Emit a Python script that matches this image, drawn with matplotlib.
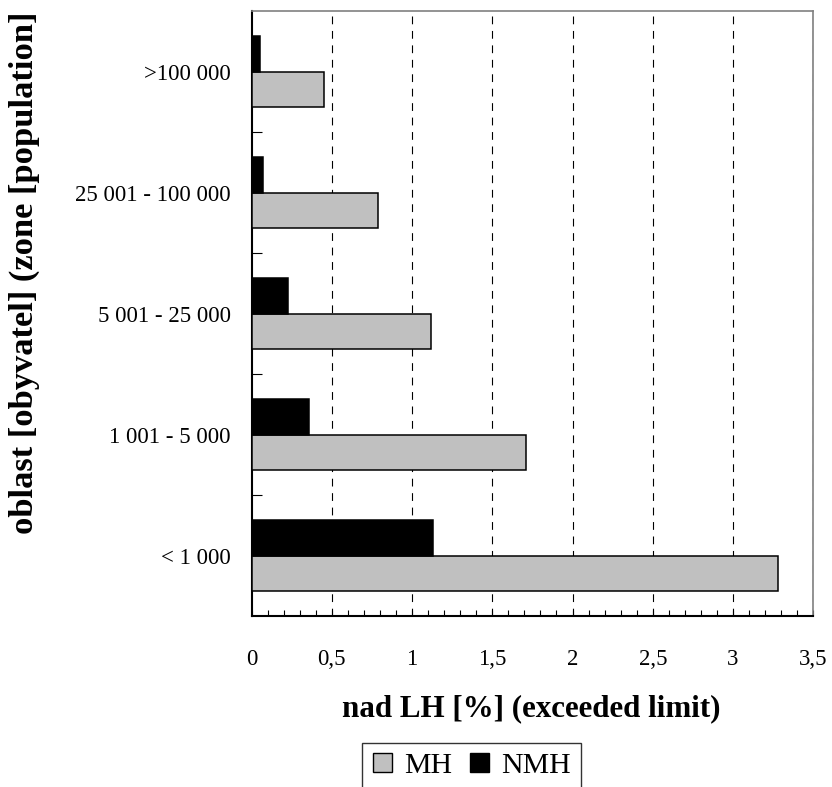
import matplotlib
matplotlib.use("Agg")
import matplotlib.pyplot as plt
from matplotlib.patches import Patch
import numpy as np

# categories from bottom to top
oblasti = ["< 1 000", "1 001 - 5 000", "5 001 - 25 000", "25 001 - 100 000", ">100 000"]
mh = [3.28, 1.71, 1.12, 0.79, 0.45]
nmh = [1.13, 0.36, 0.23, 0.07, 0.05]
x_ticks = [0, 0.5, 1, 1.5, 2, 2.5, 3, 3.5]
x_tick_labels = ["0", "0,5", "1", "1,5", "2", "2,5", "3", "3,5"]

plt.rcParams["font.family"] = ["Liberation Serif", "DejaVu Serif"]

W, H = 832, 787
fig = plt.figure(figsize=(W / 100, H / 100), dpi=100)
ax = fig.add_axes([251.5 / W, 1 - 616 / H, (813.3 - 251.5) / W, (616 - 11) / H])

y = np.arange(len(oblasti))
vyska = 0.295
ax.barh(y - vyska / 2, mh, height=vyska, color="#c0c0c0", edgecolor="black", linewidth=1.1, zorder=3)
ax.barh(y + vyska / 2, nmh, height=vyska, color="black", edgecolor="black", linewidth=1.1, zorder=3)

ax.set_xlim(0, 3.5)
ax.set_ylim(-0.5, len(oblasti) - 0.5)

# vertical dashed grid
for gx in x_ticks[1:]:
    ax.axvline(gx, color="black", linewidth=0.8, linestyle=(0, (7, 6)), zorder=1)

ax.set_xticks(x_ticks)
ax.set_xticklabels(x_tick_labels, fontsize=16.5)
ax.set_xticks(np.arange(0, 3.51, 0.1), minor=True)
ax.tick_params(axis="x", which="both", direction="in", length=4, width=0.8, pad=24)

ax.set_yticks(y)
ax.set_yticklabels(oblasti, fontsize=16.5)
ax.tick_params(axis="y", which="major", length=0, pad=14.8)
ax.set_yticks(np.arange(0.5, len(oblasti) - 1, 1.0), minor=True)
ax.tick_params(axis="y", which="minor", direction="in", length=7, width=0.8)

ax.spines["left"].set_linewidth(1.5)
ax.spines["bottom"].set_linewidth(1.5)
ax.spines["top"].set_color("#808080")
ax.spines["right"].set_color("#808080")
ax.spines["top"].set_linewidth(1.2)
ax.spines["right"].set_linewidth(1.2)

fig.text(531 / W, 1 - 709 / H, "nad LH [%] (exceeded limit)", ha="center", va="center",
         fontsize=22.3, fontweight="bold")
fig.text(24 / W, 1 - 273 / H, "oblast [obyvatel] (zone [population]", ha="center", va="center",
         rotation=90, fontsize=24.8, fontweight="bold")

handles = [Patch(facecolor="#c0c0c0", edgecolor="black", linewidth=1.0, label="MH"),
           Patch(facecolor="black", edgecolor="black", linewidth=1.0, label="NMH")]
leg = fig.legend(handles=handles, loc="upper center", bbox_to_anchor=(471.7 / W, 1 - 742.7 / H),
                 ncol=2, fontsize=21.5, frameon=True, fancybox=False, borderaxespad=0,
                 handlelength=0.65, handleheight=0.6, handletextpad=0.4, columnspacing=0.6,
                 borderpad=0.35)
leg.get_frame().set_edgecolor("black")
leg.get_frame().set_linewidth(1.0)

fig.savefig("out.png", dpi=100)
